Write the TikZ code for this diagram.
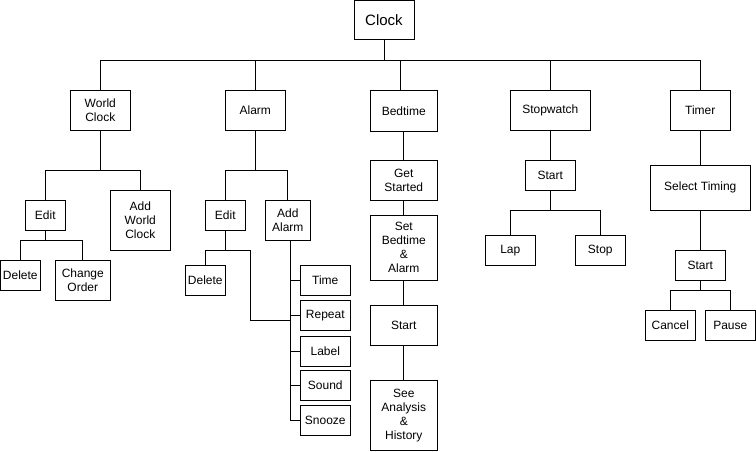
\documentclass[tikz,border=0pt]{standalone}
\usepackage{fontspec}
\setmainfont{Liberation Sans}
\begin{document}
\begin{tikzpicture}[x=1pt,y=-1pt,line width=1pt,
  bx/.style={draw,line width=1pt,align=center,inner sep=0pt,
    font=\fontsize{12}{14}\selectfont},
  line join=miter]
\useasboundingbox (0,0) rectangle (756,452);
% level 0
\node[bx,minimum width=60,minimum height=39,font=\fontsize{15}{17}\selectfont] (clock) at (384,20.5) {Clock};
% level 1
\node[bx,minimum width=60,minimum height=40] (worldclock) at (100.3,110.3) {World\\Clock};
\node[bx,minimum width=60,minimum height=40] (alarm) at (255.3,110.3) {Alarm};
\node[bx,minimum width=67,minimum height=41] (bedtime) at (403.8,110.8) {Bedtime};
\node[bx,minimum width=80,minimum height=40] (stopwatch) at (550.3,110.3) {Stopwatch};
\node[bx,minimum width=60,minimum height=40] (timer) at (700.3,110.3) {Timer};
% world clock
\node[bx,minimum width=40,minimum height=30] (wcedit) at (45.3,215.3) {Edit};
\node[bx,minimum width=60,minimum height=60] (addwc) at (140.3,220.3) {Add\\World\\Clock};
\node[bx,minimum width=40,minimum height=30] (wcdel) at (20.3,275.3) {Delete};
\node[bx,minimum width=55,minimum height=40] (chorder) at (82.8,280.3) {Change\\Order};
% alarm
\node[bx,minimum width=40,minimum height=30] (aedit) at (225.3,215.3) {Edit};
\node[bx,minimum width=45,minimum height=40] (addalarm) at (287.8,220.3) {Add\\Alarm};
\node[bx,minimum width=40,minimum height=30] (adel) at (205.3,280.3) {Delete};
\node[bx,minimum width=50,minimum height=30] (time) at (325.3,280.3) {Time};
\node[bx,minimum width=50,minimum height=30] (repeat) at (325.3,315.3) {Repeat};
\node[bx,minimum width=50,minimum height=30] (label) at (325.3,351.3) {Label};
\node[bx,minimum width=50,minimum height=30] (sound) at (325.3,385.3) {Sound};
\node[bx,minimum width=50,minimum height=30] (snooze) at (325.3,420.3) {Snooze};
% bedtime
\node[bx,minimum width=67,minimum height=40] (getstarted) at (403.8,180.3) {Get\\Started};
\node[bx,minimum width=67,minimum height=65] (setbed) at (403.8,247.8) {Set\\Bedtime\\\&\\Alarm};
\node[bx,minimum width=67,minimum height=40] (bstart) at (403.8,325.3) {Start};
\node[bx,minimum width=67,minimum height=70] (seeana) at (403.8,415.3) {See\\Analysis\\\&\\History};
% stopwatch
\node[bx,minimum width=50,minimum height=30] (swstart) at (550.3,175.3) {Start};
\node[bx,minimum width=50,minimum height=30] (lap) at (510.3,250.3) {Lap};
\node[bx,minimum width=50,minimum height=30] (stop) at (600.3,250.3) {Stop};
% timer
\node[bx,minimum width=100,minimum height=45] (seltiming) at (700.3,187.8) {Select Timing};
\node[bx,minimum width=50,minimum height=30] (tstart) at (700.3,265.3) {Start};
\node[bx,minimum width=50,minimum height=30] (cancel) at (670.3,325.3) {Cancel};
\node[bx,minimum width=50,minimum height=30] (pause) at (730.3,325.3) {Pause};
% connectors level 0-1
\coordinate (bus) at (384,60.3);
\draw (clock.south) -- (clock.south |- bus);
\draw (worldclock.north) -- (worldclock.north |- bus) -| (timer.north);
\draw (alarm.north) -- (alarm.north |- bus);
\coordinate (bedtop) at ([xshift=-3.5pt]bedtime.north);
\draw (bedtop) -- (bedtop |- bus);
\draw (stopwatch.north) -- (stopwatch.north |- bus);
% world clock
\coordinate (wcb) at ([yshift=-40pt]worldclock.south);
\draw (worldclock.south) -- (wcb);
\draw (wcedit.north) -- (wcedit.north |- wcb) -| (addwc.north);
\coordinate (wceb) at ([yshift=-10pt]wcedit.south);
\draw (wcedit.south) -- (wceb);
\draw (wcdel.north) -- (wcdel.north |- wceb) -| (chorder.north);
% alarm
\coordinate (ab) at ([yshift=-40pt]alarm.south);
\draw (alarm.south) -- (ab);
\draw (aedit.north) -- (aedit.north |- ab) -| (addalarm.north);
\coordinate (aeb) at ([yshift=-20pt]aedit.south);
\draw (aedit.south) -- (aeb);
\coordinate (aj) at (250.3,320.3);
\coordinate (aas) at ([xshift=2.5pt]addalarm.south);
\draw (adel.north) -- (adel.north |- aeb) -| (aj) -- (aj -| aas);
\draw (aas) -- (aas |- snooze.west);
\foreach \n in {time,repeat,label,sound,snooze}
  \draw (\n.west) -- (\n.west -| aas);
% bedtime
\draw (bedtime.south) -- (getstarted.north);
\draw (getstarted.south) -- (setbed.north);
\draw (setbed.south) -- (bstart.north);
\draw (bstart.south) -- (seeana.north);
% stopwatch
\draw (stopwatch.south) -- (swstart.north);
\coordinate (swb) at ([yshift=-20pt]swstart.south);
\draw (swstart.south) -- (swb);
\draw (lap.north) -- (lap.north |- swb) -| (stop.north);
% timer
\draw (timer.south) -- (seltiming.north);
\draw (seltiming.south) -- (tstart.north);
\coordinate (tb) at ([yshift=-10pt]tstart.south);
\draw (tstart.south) -- (tb);
\draw (cancel.north) -- (cancel.north |- tb) -| (pause.north);
\end{tikzpicture}
\end{document}
